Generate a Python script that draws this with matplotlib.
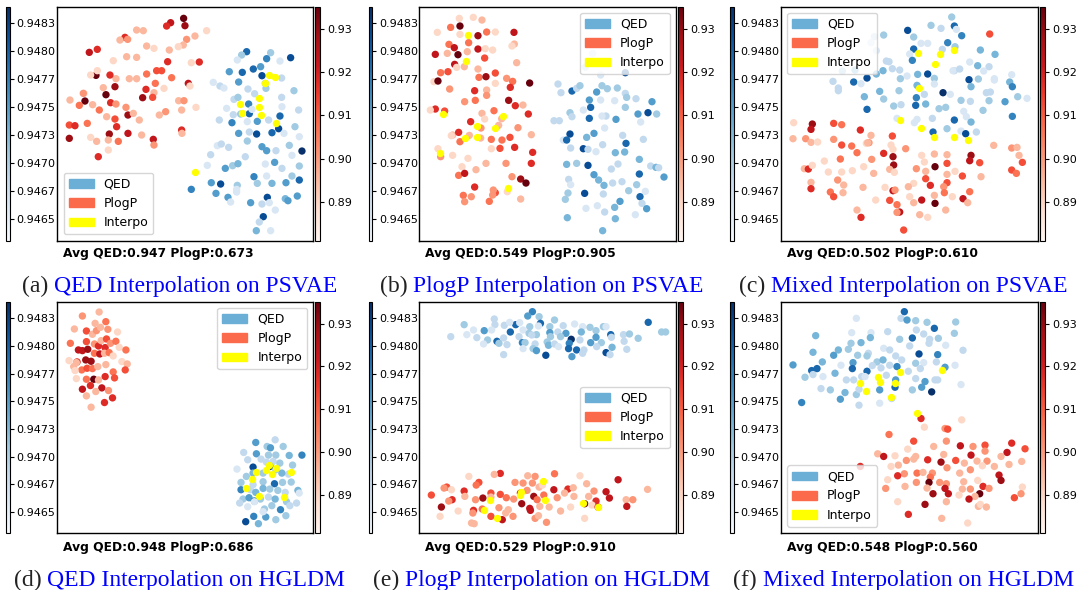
"""
latent space interpolation plots, 2 rows x 3 columns
points are (x, y, shade) read in the pixel grid of each panel, shade 0..9
"""
import numpy as np
import matplotlib
matplotlib.use("Agg")
import matplotlib.pyplot as plt
from matplotlib.patches import Patch
from matplotlib.colors import Normalize
from matplotlib.cm import ScalarMappable

W, H = 1077, 590

QED_RANGE = (0.94631, 0.94840)
PLOGP_RANGE = (0.8811, 0.9351)
QED_TICKS = [0.94650, 0.94675, 0.94700, 0.94725, 0.94750, 0.94775, 0.94800, 0.94825]
QED_TICKLABELS = ['0.9465', '0.9467', '0.9470', '0.9473', '0.9475', '0.9477', '0.9480', '0.9483']
PLOGP_TICKS = [0.89, 0.90, 0.91, 0.92, 0.93]
PLOGP_TICKLABELS = ['0.89', '0.90', '0.91', '0.92', '0.93']

CAPTION_TAGS = ['(a)', '(b)', '(c)', '(d)', '(e)', '(f)']
CAPTIONS = ['QED Interpolation on PSVAE', 'PlogP Interpolation on PSVAE',
            'Mixed Interpolation on PSVAE', 'QED Interpolation on HGLDM',
            'PlogP Interpolation on HGLDM', 'Mixed Interpolation on HGLDM']
AVG_QED = [0.947, 0.549, 0.502, 0.948, 0.529, 0.548]
AVG_PLOGP = [0.673, 0.905, 0.610, 0.686, 0.910, 0.560]
LEGEND_LABELS = ['QED', 'PlogP', 'Interpo']

# ---- (a) ----
A_PLOGP = [(551,55,9),(555,77,8),(512,68,7),(500,78,6),(410,90,2),(430,92,2),(620,92,1),(375,112,6),
           (383,118,3),(585,108,2),(560,118,3),(268,157,7),(292,148,6),(340,182,1),(380,170,2),(410,172,2),
           (440,138,2),(462,145,1),(508,150,2),(550,135,2),(535,140,1),(574,188,1),(598,186,6),(503,185,6),
           (470,212,5),(485,212,5),(440,222,4),(410,236,2),(388,236,2),(348,236,2),(288,226,9),(292,212,1),
           (330,225,6),(310,263,2),(345,260,8),(318,284,9),(255,303,9),(238,316,4),(252,280,1),(278,314,2),
           (298,330,4),(332,308,6),(348,312,3),(320,350,2),(345,357,5),(378,322,3),(384,345,8),(428,293,8),
           (438,268,6),(462,278,2),(458,292,5),(466,250,4),(492,265,1),(515,233,4),(565,250,7),(570,258,1),
           (536,302,2),(552,302,3),(588,322,1),(545,330,2),(497,335,3),(478,345,2),(418,360,2),(400,340,2),
           (208,375,5),(225,377,6),(262,370,4),(208,415,8),(272,412,1),(290,424,2),(328,402,8),(350,380,6),
           (325,420,2),(355,424,4),(384,400,7),(425,405,2),(460,418,7),(462,435,3),(545,390,6),(546,400,2),
           (295,470,6),(325,450,1),(210,300,2),(272,225,1),(360,120,2),(250,280,3)]
A_QED = [(740,155,7),(725,165,3),(812,158,3),(800,176,6),(872,173,8),(712,180,1),(840,183,1),(688,215,5),
         (727,217,7),(760,207,7),(782,200,5),(786,227,8),(716,246,5),(640,247,1),(660,258,2),(672,264,1),
         (744,267,2),(764,281,2),(798,265,3),(796,250,3),(845,234,2),(882,272,3),(702,298,2),(714,292,3),
         (746,312,6),(700,344,2),(722,342,3),(748,341,7),(756,328,1),(680,325,1),(845,292,2),(846,320,1),
         (896,330,2),(840,348,7),(658,360,2),(696,368,6),(742,365,1),(772,364,5),(806,360,2),(836,386,8),
         (816,398,7),(770,402,8),(748,396,2),(716,400,5),(852,400,1),(885,380,3),(898,410,1),(742,423,3),
         (652,437,1),(664,432,2),(686,442,2),(786,440,5),(800,452,5),(828,452,2),(868,436,3),(906,453,9),
         (876,466,1),(632,464,2),(736,470,2),(622,496,1),(676,505,5),(698,497,3),(714,491,4),(796,492,1),
         (824,487,5),(846,505,2),(898,498,3),(876,528,3),(762,530,6),(800,528,1),(898,540,7),(634,548,5),
         (662,552,8),(712,556,3),(710,568,1),(772,550,3),(816,550,4),(858,548,5),(574,568,6),(648,580,5),
         (684,592,5),(710,576,1),(802,592,8),(856,596,4),(864,602,5),(892,588,5),(692,606,1),(752,608,5),
         (786,612,2),(808,608,1),(826,630,1),(790,650,8),(778,666,2),(769,692,4),(812,692,1)]
A_INTERP = [(806,226),(826,231),(795,248),(778,294),(720,313),(776,321),(727,340),(784,344),(828,370),(584,517)]

# ---- (b) ----
B_PLOGP = [(298,55,1),(340,52,1),(366,60,2),(300,78,9),(272,82,4),(232,97,1),(300,103,1),(354,107,8),
           (380,96,4),(406,96,1),(462,97,7),(267,133,4),(283,143,7),(326,128,4),(354,147,7),(376,146,1),
           (398,150,1),(463,132,2),(456,138,1),(226,163,7),(262,160,2),(294,164,9),(322,155,2),(374,174,5),
           (284,193,7),(290,202,1),(313,200,2),(354,207,2),(470,188,2),(242,218,4),(264,215,5),(222,245,1),
           (234,243,9),(357,232,4),(378,230,8),(406,219,5),(440,235,3),(458,244,4),(509,249,9),(451,262,6),
           (269,267,3),(380,270,2),(344,272,6),(406,250,1),(380,286,3),(446,301,8),(466,317,6),(489,315,2),
           (346,301,4),(314,305,3),(226,327,6),(254,333,5),(211,330,1),(402,332,4),(366,340,2),(374,357,1),
           (425,356,2),(505,342,6),(332,365,6),(363,384,3),(474,383,3),(416,376,2),(278,405,2),(296,397,6),
           (300,425,4),(328,406,2),(362,414,2),(274,407,1),(394,418,4),(426,420,4),(450,412,5),(514,404,2),
           (464,442,6),(420,445,5),(234,446,1),(242,470,3),(394,446,1),(324,475,1),(278,466,1),(378,490,2),
           (306,500,1),(348,509,2),(518,457,6),(514,490,6),(438,490,3),(296,526,4),(314,520,7),(456,530,3),
           (482,537,8),(498,549,9),(344,561,6),(406,578,5),(398,585,3),(442,575,1),(310,586,4),(334,590,3),
           (482,597,2),(314,605,3),(388,604,4),(400,570,3)]
B_QED = [(676,201,2),(698,160,1),(796,218,8),(722,225,1),(594,252,2),(603,278,2),(636,273,7),(650,265,2),
         (660,257,3),(710,276,5),(726,257,3),(742,266,3),(772,264,3),(796,280,2),(800,292,3),(828,296,2),
         (688,300,5),(764,302,1),(722,300,1),(796,322,3),(876,305,5),(692,322,7),(630,338,3),(636,350,2),
         (670,330,1),(738,348,2),(726,348,1),(768,358,5),(834,342,5),(864,338,8),(890,342,3),(582,362,2),
         (598,362,2),(688,355,7),(734,384,1),(842,366,1),(630,402,8),(610,420,1),(620,420,7),(680,412,4),
         (702,400,5),(788,406,2),(850,418,2),(798,430,7),(632,444,2),(670,446,8),(684,448,2),(708,455,1),
         (728,434,2),(766,458,4),(794,456,4),(620,493,4),(650,490,3),(684,496,8),(754,507,2),(774,492,2),
         (838,478,4),(872,498,2),(888,502,4),(896,503,2),(912,531,5),(702,524,5),(716,540,4),(626,538,2),
         (632,554,1),(732,556,4),(758,549,2),(786,545,2),(830,554,3),(838,522,7),(856,574,1),(674,580,8),
         (624,579,3),(806,572,3),(616,598,3),(730,582,2),(780,604,5),(840,590,7),(712,617,1),(846,610,2),
         (860,626,5),(678,625,1),(764,622,4),(734,636,2),(622,653,4),(766,656,4),(826,644,1),(728,692,4)]
B_INTERP = [(324,106),(317,182),(250,342),(429,347),(350,379),(404,384),(316,415),(352,412),(240,458),(444,563)]

# ---- (c) ----
C_QED = [(704,51,3),(712,78,7),(642,76,3),(672,85,2),(718,88,1),(572,91,8),(734,107,6),(500,105,3),
         (472,110,2),(462,128,1),(590,111,3),(612,130,1),(632,130,1),(692,128,6),(714,140,3),(790,150,4),
         (834,163,4),(590,147,7),(578,162,1),(676,148,2),(478,152,1),(586,181,6),(508,183,2),(516,185,2),
         (758,186,1),(782,197,4),(816,200,2),(376,213,3),(414,210,4),(498,212,4),(526,206,2),(478,222,4),
         (548,210,2),(712,212,2),(708,212,1),(728,207,2),(602,223,4),(632,222,8),(652,235,3),(570,228,1),
         (550,236,3),(450,234,8),(410,246,7),(348,244,2),(432,251,1),(600,256,4),(756,239,8),(784,237,3),
         (832,240,1),(878,246,4),(886,260,6),(364,264,2),(364,272,2),(488,274,4),(546,272,3),(652,252,1),
         (678,278,9),(762,260,4),(808,278,2),(820,276,2),(816,302,3),(902,290,3),(930,295,1),(864,305,5),
         (442,290,4),(500,297,3),(598,293,6),(622,283,2),(700,283,1),(732,301,3),(760,304,2),(530,318,3),
         (552,314,2),(596,316,7),(626,312,4),(666,326,3),(686,322,3),(798,331,3),(740,334,1),(450,328,7),
         (886,349,6),(646,355,2),(712,360,7),(748,350,1),(592,368,1),(762,366,4),(778,396,2),(690,386,3),
         (732,393,1),(746,401,8),(648,396,7),(600,358,1),(540,355,1),(884,224,1),(832,236,1),(800,213,1)]
C_PLOGP = [(818,102,5),(230,368,1),(286,372,8),(282,388,7),(350,370,5),(374,374,4),(430,390,6),(462,406,2),
           (456,428,3),(526,408,5),(228,416,2),(266,416,3),(282,427,2),(302,426,1),(350,418,3),(374,435,5),
           (404,438,4),(420,458,4),(448,430,1),(452,428,2),(522,435,1),(528,448,1),(566,446,3),(500,460,6),
           (528,470,8),(464,478,3),(530,495,8),(518,508,2),(614,466,1),(652,462,2),(622,486,1),(690,464,2),
           (654,500,9),(690,490,5),(762,466,8),(758,482,7),(788,488,5),(830,436,2),(884,444,3),(900,442,2),
           (906,466,2),(916,487,5),(884,510,5),(898,520,4),(322,483,1),(370,477,4),(262,506,2),(274,507,6),
           (286,496,1),(334,516,1),(374,516,1),(406,512,1),(440,500,1),(470,520,2),(532,517,1),(598,506,3),
           (626,514,2),(690,523,2),(714,514,1),(736,528,5),(792,530,2),(282,547,2),(362,540,3),(380,555,2),
           (438,562,2),(626,536,5),(590,550,1),(640,556,6),(690,548,5),(680,560,3),(282,566,6),(340,576,4),
           (350,590,5),(378,578,2),(504,562,1),(528,572,7),(534,570,3),(574,560,2),(652,586,2),(682,578,4),
           (706,590,1),(758,575,4),(476,600,1),(518,601,5),(540,614,4),(590,608,2),(614,600,7),(654,610,9),
           (738,596,7),(752,608,2),(420,630,2),(432,652,6),(548,636,7),(540,637,3),(608,644,2),(632,652,1),
           (686,630,2),(560,690,5),(578,590,1)]
C_INTERP = [(604,158),(669,163),(712,151),(654,191),(606,264),(548,360),(612,383),(650,410),(710,410),(753,420)]

# ---- (d) ----
D_PLOGP = [(250,48,3),(300,36,2),(288,70,2),(226,87,2),(262,93,5),(280,103,2),(292,92,3),(320,65,4),
           (304,82,2),(326,88,3),(355,96,1),(214,130,4),(262,125,5),(238,150,7),(250,152,7),(266,148,8),
           (286,132,3),(298,138,6),(306,122,2),(322,117,5),(318,143,6),(334,130,3),(350,124,4),(360,142,1),
           (380,150,4),(210,182,1),(234,186,6),(260,180,8),(276,184,8),(286,160,4),(302,162,7),(316,160,2),
           (330,158,4),(342,168,1),(368,185,1),(384,192,2),(378,210,5),(224,200,2),(248,210,4),(264,205,5),
           (280,206,4),(296,200,2),(320,194,2),(342,216,4),(232,236,1),(262,238,4),(284,238,9),(298,240,2),
           (318,230,6),(346,234,5),(250,268,7),(274,257,6),(308,264,7),(290,275,2),(328,272,3),(262,288,2),
           (340,294,6),(316,308,6),(276,322,2),(228,212,1),(232,188,2)]
D_QED = [(826,420,2),(768,428,5),(802,440,3),(812,444,5),(850,440,3),(732,458,2),(770,462,5),(806,466,3),
         (828,466,3),(868,467,4),(906,466,6),(744,480,2),(760,502,8),(784,478,2),(800,487,2),(820,485,2),
         (840,490,3),(878,496,3),(866,523,2),(712,508,1),(740,530,3),(790,520,3),(810,500,9),(846,520,4),
         (828,510,3),(760,520,4),(724,548,3),(760,555,2),(790,546,3),(824,552,7),(848,548,3),(874,547,3),
         (724,570,6),(752,570,2),(768,578,4),(790,566,4),(810,568,3),(834,572,3),(856,578,2),(894,572,4),
         (730,598,3),(748,594,5),(764,604,7),(782,598,3),(806,592,2),(826,598,4),(860,606,3),(890,610,2),
         (744,621,1),(764,606,1),(794,628,3),(816,618,3),(842,630,6),(870,618,2),(762,650,6),(798,652,5),
         (828,660,3),(858,648,3),(738,666,8),(776,672,4),(790,636,1),(720,610,2),(898,580,1)]
D_INTERP = [(808,497),(770,518),(800,512),(816,522),(830,506),(872,517),(758,537),(738,565),(779,590),(853,592)]

# ---- (e) ----
E_QED = [(526,35,6),(512,48,5),(546,50,3),(412,57,2),(550,70,7),(592,60,3),(322,74,3),(414,74,2),
         (442,76,2),(476,74,7),(458,67,1),(488,68,1),(518,80,3),(544,78,1),(578,80,3),(618,77,2),
         (652,72,1),(676,80,1),(698,82,3),(738,80,3),(746,80,1),(872,67,7),(382,92,5),(404,90,1),
         (460,96,7),(498,90,1),(516,100,3),(538,104,3),(578,98,5),(602,96,2),(626,100,5),(672,96,4),
         (716,92,3),(282,110,2),(360,113,2),(392,120,3),(420,124,7),(440,114,2),(486,110,2),(524,105,2),
         (580,110,3),(610,110,3),(642,118,9),(668,120,2),(716,112,5),(760,104,7),(762,112,2),(798,104,2),
         (816,102,3),(842,115,3),(912,96,3),(924,96,3),(380,132,1),(426,130,3),(450,134,2),(496,128,6),
         (504,128,3),(534,132,2),(570,126,3),(574,136,4),(592,132,2),(636,130,6),(700,128,5),(732,128,3),
         (764,142,4),(800,124,2),(808,148,2),(440,164,2),(498,146,1),(528,146,3),(538,152,5),(566,166,8),
         (634,146,7),(658,150,7),(644,170,5),(680,150,2),(676,160,2),(718,140,2),(746,158,8),(758,164,2),
         (604,140,1),(330,104,1),(350,90,1)]
E_PLOGP = [(430,521,6),(336,530,1),(412,524,2),(512,528,2),(534,530,3),(592,522,4),(668,528,1),(782,540,7),
           (366,548,5),(358,556,4),(270,562,5),(262,565,3),(284,570,1),(322,574,6),(402,580,5),(430,584,5),
           (474,548,3),(498,550,3),(526,550,3),(546,562,2),(556,556,1),(590,570,7),(632,568,6),(648,564,2),
           (688,552,2),(710,574,3),(746,576,7),(870,569,2),(224,586,5),(286,600,6),(324,590,2),(356,600,3),
           (378,595,8),(402,592,2),(448,594,4),(470,598,3),(490,580,6),(510,572,3),(530,590,8),(540,600,4),
           (560,586,4),(600,594,3),(622,580,2),(650,590,2),(694,590,2),(716,604,6),(756,595,7),(806,600,2),
           (826,600,3),(254,622,8),(276,604,3),(304,634,1),(350,632,6),(376,628,4),(426,624,3),(454,630,2),
           (494,612,8),(518,626,7),(520,632,7),(548,620,2),(576,622,2),(610,634,2),(640,622,1),(682,612,9),
           (704,616,1),(722,622,6),(808,620,7),(250,650,1),(348,640,3),(402,650,5),(436,660,7),(468,650,3),
           (534,656,3),(568,668,3),(682,656,1),(344,670,2),(352,672,2),(544,648,2),(446,640,2)]
E_INTERP = [(558,545),(492,578),(490,586),(565,600),(398,600),(382,630),(420,655),(677,610),(722,622)]

# ---- (f) ----
F_QED = [(562,35,7),(552,55,2),(570,60,5),(596,62,3),(630,67,3),(716,66,3),(418,55,1),(652,85,7),
         (598,90,2),(512,95,2),(404,98,1),(462,98,1),(620,102,2),(296,107,4),(460,113,4),(548,118,3),
         (586,114,7),(638,118,2),(664,115,3),(712,100,3),(402,130,3),(432,128,4),(636,130,2),(686,136,1),
         (288,157,4),(364,150,4),(394,148,3),(500,145,1),(518,150,2),(422,166,3),(454,160,2),(578,138,2),
         (606,162,8),(662,164,6),(738,151,2),(228,195,5),(316,186,4),(350,166,5),(408,188,5),(450,168,3),
         (480,186,3),(498,180,4),(536,168,2),(554,180,2),(596,190,3),(620,188,1),(658,186,2),(714,196,1),
         (284,212,7),(300,206,7),(372,196,1),(406,206,7),(450,214,7),(466,197,2),(492,204,2),(518,196,2),
         (540,200,6),(574,214,2),(610,206,2),(684,202,5),(264,232,3),(288,224,2),(318,230,1),(354,220,4),
         (388,240,2),(410,240,2),(434,230,2),(508,226,2),(536,240,5),(596,236,2),(624,245,5),(654,240,2),
         (662,240,2),(312,266,2),(340,270,3),(384,278,4),(418,284,3),(426,268,2),(488,270,5),(534,262,7),
         (586,270,3),(614,262,5),(644,276,9),(732,254,1),(370,298,5),(426,316,2),(488,310,1),(524,296,2),
         (254,308,6),(444,230,1)]
F_PLOGP = [(612,356,6),(734,360,1),(622,382,1),(684,386,3),(692,388,5),(516,404,4),(590,424,5),(650,440,2),
           (688,424,3),(730,438,7),(768,440,3),(804,436,5),(884,430,6),(924,447,5),(482,462,2),(500,470,7),
           (572,448,1),(534,468,1),(596,470,2),(680,464,2),(762,466,7),(870,458,7),(804,454,3),(852,470,2),
           (544,496,2),(568,482,3),(590,478,2),(632,480,6),(672,487,8),(716,482,5),(742,490,2),(780,484,2),
           (810,484,3),(832,500,2),(876,494,2),(914,485,2),(430,500,6),(522,500,1),(562,522,3),(600,520,4),
           (618,518,2),(646,520,3),(690,504,3),(728,520,2),(760,510,3),(796,498,1),(542,528,6),(512,540,1),
           (598,548,3),(640,532,4),(668,548,3),(688,552,3),(740,546,2),(782,542,1),(846,526,7),(852,542,8),
           (636,548,9),(506,566,3),(564,560,2),(630,565,2),(684,566,7),(736,568,2),(760,568,3),(798,560,6),
           (816,566,3),(916,562,1),(912,582,3),(648,582,8),(694,582,7),(726,586,1),(788,582,9),(774,590,2),
           (892,594,5),(542,606,1),(624,614,8),(688,606,2),(756,598,7),(784,620,2),(790,614,1),(574,644,6),
           (674,656,2),(752,670,1),(808,622,2)]
F_INTERP = [(548,216),(674,211),(482,232),(488,246),(535,248),(430,248),(448,273),(522,290),(600,339)]

# data extents of each panel, same grid as the points: x0, x1, y_top, y_bottom
EXTENTS = [(172, 940, 20, 722), (178, 948, 20, 722), (192, 962, 20, 722),
           (175, 940, 5, 700), (188, 955, 5, 700), (192, 962, 5, 700)]
PANEL_DATA = [(A_QED, A_PLOGP, A_INTERP), (B_QED, B_PLOGP, B_INTERP), (C_QED, C_PLOGP, C_INTERP),
              (D_QED, D_PLOGP, D_INTERP), (E_QED, E_PLOGP, E_INTERP), (F_QED, F_PLOGP, F_INTERP)]
LEGEND_LOCS = ['lower left', 'upper right', 'upper left', 'upper right', 'center right', 'lower left']

# layout in pixels
COL_AX = [(57.3, 313.3), (419.3, 676.0), (781.0, 1037.7)]
COL_LCB = [5.5, 368.5, 729.7]
COL_RCB = [315.0, 678.3, 1040.0]
ROW_Y = [(6.7, 240.7), (301.7, 533.0)]
ROW_AVG_Y = [253, 548]
ROW_CAP_Y = [292, 586]


def px_box(x0, y0, x1, y1):
    return [x0 / W, 1 - y1 / H, (x1 - x0) / W, (y1 - y0) / H]


def shade_to_value(shades, lo, hi):
    frac = 0.05 + 0.95 * np.asarray(shades, float) / 9.0
    return lo + frac * (hi - lo)


def main():
    plt.rcParams['font.family'] = ['DejaVu Sans']
    fig = plt.figure(figsize=(W / 100, H / 100), dpi=100)

    qed_norm = Normalize(*QED_RANGE)
    plogp_norm = Normalize(*PLOGP_RANGE)

    caption_parts = []
    for i in range(6):
        row, col = divmod(i, 3)
        ax0, ax1 = COL_AX[col]
        y0, y1 = ROW_Y[row]
        ax = fig.add_axes(px_box(ax0, y0, ax1, y1))
        qed, plogp, interp = [np.array(d, float) for d in PANEL_DATA[i]]

        ax.scatter(plogp[:, 0], plogp[:, 1], c=shade_to_value(plogp[:, 2], *PLOGP_RANGE),
                   cmap='Reds', norm=plogp_norm, s=28, linewidths=0)
        ax.scatter(qed[:, 0], qed[:, 1], c=shade_to_value(qed[:, 2], *QED_RANGE),
                   cmap='Blues', norm=qed_norm, s=28, linewidths=0)
        ax.scatter(interp[:, 0], interp[:, 1], color='#ffff00', s=28, linewidths=0)

        x0, x1, yt, yb = EXTENTS[i]
        ax.set_xlim(x0, x1)
        ax.set_ylim(yb, yt)
        ax.set_xticks([])
        ax.set_yticks([])
        for sp in ax.spines.values():
            sp.set_linewidth(1.0)

        handles = [Patch(color='#6baed6'), Patch(color='#fb6a4a'), Patch(color='#ffff00')]
        ax.legend(handles, LEGEND_LABELS, loc=LEGEND_LOCS[i], fontsize=9)

        # left colorbar (qed)
        lx = COL_LCB[col]
        cax = fig.add_axes(px_box(lx, y0, lx + 4, y1))
        cb = fig.colorbar(ScalarMappable(norm=qed_norm, cmap='Blues'), cax=cax)
        cb.set_ticks(QED_TICKS)
        cb.set_ticklabels(QED_TICKLABELS)
        cax.tick_params(labelsize=8, length=3, width=0.8, pad=2)
        cb.outline.set_linewidth(0.8)

        # right colorbar (plogp)
        rx = COL_RCB[col]
        cax2 = fig.add_axes(px_box(rx, y0, rx + 5, y1))
        cb2 = fig.colorbar(ScalarMappable(norm=plogp_norm, cmap='Reds'), cax=cax2)
        cb2.set_ticks(PLOGP_TICKS)
        cb2.set_ticklabels(PLOGP_TICKLABELS)
        cax2.tick_params(labelsize=8, length=3, width=0.8, pad=2)
        cb2.outline.set_linewidth(0.8)

        fig.text((ax0 + 6) / W, 1 - ROW_AVG_Y[row] / H,
                 'Avg QED:%.3f PlogP:%.3f' % (AVG_QED[i], AVG_PLOGP[i]),
                 fontsize=8.8, fontweight='bold', ha='left', va='center')

        caption_parts.append(((ax0 + ax1) / 2 - 6, ROW_CAP_Y[row], CAPTION_TAGS[i], CAPTIONS[i]))

    # two-colour captions, centred under each column
    renderer = fig.canvas.get_renderer()
    cap_font = dict(family='Liberation Serif', fontsize=17)
    for cx, cy, tag, txt in caption_parts:
        probe = fig.text(0, 0, tag + ' ' + txt, **cap_font)
        width = probe.get_window_extent(renderer).width
        probe.remove()
        fig.text((cx - width / 2) / W, 1 - cy / H, tag, color='#222222',
                 ha='left', va='baseline', **cap_font)
        t2_probe = fig.text(0, 0, txt, **cap_font)
        txt_w = t2_probe.get_window_extent(renderer).width
        t2_probe.remove()
        fig.text((cx + width / 2 - txt_w) / W, 1 - cy / H, txt, color='#0000ff',
                 ha='left', va='baseline', **cap_font)

    fig.savefig('out.png', dpi=100)


if __name__ == "__main__":
    main()
